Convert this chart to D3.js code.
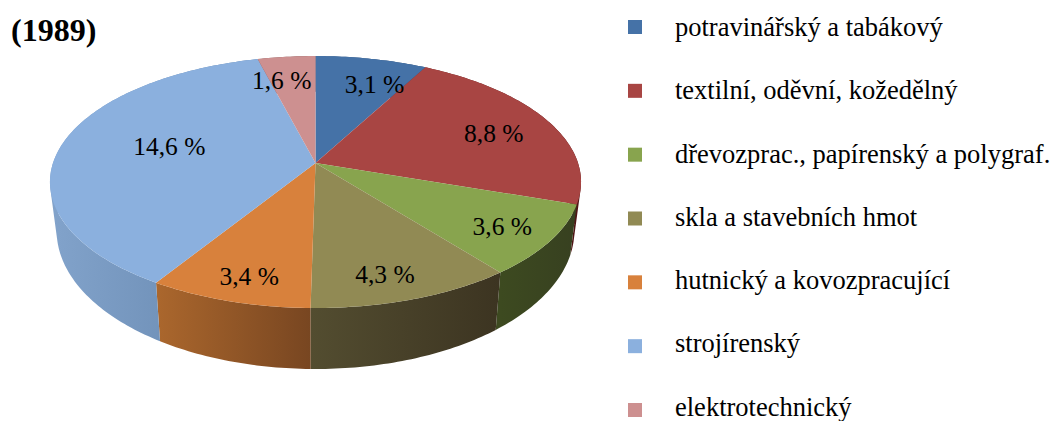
<!DOCTYPE html>
<html>
<head>
<meta charset="utf-8">
<script src="https://cdn.jsdelivr.net/npm/d3@7"></script>
<style>
  body { margin: 0; background: #fff; }
  text { font-family: 'Liberation Serif', serif; fill: #000; }
</style>
</head>
<body>
<div id="chart"></div>
<script>
// Values
var categories = [
  'potravinářský a tabákový',
  'textilní, oděvní, kožedělný',
  'dřevozprac., papírenský a polygraf.',
  'skla a stavebních hmot',
  'hutnický a kovozpracující',
  'strojírenský',
  'elektrotechnický'
]
var values = [3.1, 8.8, 3.6, 4.3, 3.4, 14.6, 1.6]
var valueLabels = ['3,1 %', '8,8 %', '3,6 %', '4,3 %', '3,4 %', '14,6 %', '1,6 %']
var title = '(1989)'

var topColors = ['#4572a7', '#a84543', '#88a44e', '#918a54', '#d8813c', '#8bb0de', '#cd9090']
var sideStart = ['#3a5f8c', '#6e1f1f', '#3d4a20', '#534d30', '#ab672d', '#82a3cb', '#8a5a5a']
var sideEnd = ['#2f4d72', '#4e1414', '#374020', '#3c3421', '#784621', '#6586ad', '#7a4f4f']

var width = 1054
var height = 421

// I tilt the pie with a perspective: the near edge comes out bigger
var apexX = 315.5
var apexY = 163
var radiusX = 262.5
var radiusY = 123.1
var tilt = 0.151

// floor of the pie, relative to the top face
var floorScaleX = 0.975
var floorScaleY = 1.1
var floorY = 209.5

// labels were placed by hand in the original, nudged from the slice middle
var labelRadius = 0.65
var labelNudge = [[21, -8], [25, -2], [39, 14], [9, 28], [-13, 28], [20, -5], [-14, -11]]

function project(angle, r) {
  var u = r * Math.sin(angle)
  var v = -r * Math.cos(angle)
  var w = 1 - tilt * v
  return [apexX + (radiusX * u) / w, apexY + (radiusY * v) / w]
}

function projectFloor(angle) {
  var p = project(angle, 1)
  return [apexX + (p[0] - apexX) * floorScaleX, floorY + (p[1] - apexY) * floorScaleY]
}

function arcAngles(d) {
  var steps = Math.max(2, Math.ceil((d.endAngle - d.startAngle) * 60))
  return d3.range(steps + 1).map(function(i) {
    return d.startAngle + ((d.endAngle - d.startAngle) * i) / steps
  })
}

var line = d3.line()

var pie = d3.pie().sort(null)
var slices = pie(values)

var svg = d3
  .select('#chart')
  .append('svg')
  .attr('width', width)
  .attr('height', height)
  .style('display', 'block')

var defs = svg.append('defs')

// sides first, the top faces cover whatever is behind them
// one small quad per step, all wound the same way so they fill as a union
svg
  .selectAll('.side')
  .data(slices)
  .enter()
  .append('path')
  .attr('class', 'side')
  .attr('d', function(d) {
    return d3
      .pairs(arcAngles(d))
      .map(function(pair) {
        var quad = [
          project(pair[0], 1),
          project(pair[1], 1),
          projectFloor(pair[1]),
          projectFloor(pair[0])
        ]
        if (d3.polygonArea(quad) < 0) {
          quad.reverse()
        }
        return line(quad) + 'Z'
      })
      .join('')
  })
  .attr('fill', function(d, i) {
    var xs = arcAngles(d).map(function(a) {
      return project(a, 1)[0]
    })
    var gradient = defs
      .append('linearGradient')
      .attr('id', 'side-' + i)
      .attr('gradientUnits', 'userSpaceOnUse')
      .attr('x1', d3.min(xs))
      .attr('x2', d3.max(xs))
      .attr('y1', 0)
      .attr('y2', 0)
    gradient.append('stop').attr('offset', 0).attr('stop-color', sideStart[i])
    gradient.append('stop').attr('offset', 1).attr('stop-color', sideEnd[i])
    return 'url(#side-' + i + ')'
  })

svg
  .selectAll('.slice')
  .data(slices)
  .enter()
  .append('path')
  .attr('class', 'slice')
  .attr('d', function(d) {
    var outline = arcAngles(d).map(function(a) {
      return project(a, 1)
    })
    return line([[apexX, apexY]].concat(outline)) + 'Z'
  })
  .attr('fill', function(d, i) {
    return topColors[i]
  })

svg
  .selectAll('.value-label')
  .data(slices)
  .enter()
  .append('text')
  .attr('class', 'value-label')
  .attr('text-anchor', 'middle')
  .attr('dy', '0.35em')
  .attr('font-size', 25.5)
  .attr('transform', function(d, i) {
    var p = project((d.startAngle + d.endAngle) / 2, labelRadius)
    return 'translate(' + (p[0] + labelNudge[i][0]) + ',' + (p[1] + labelNudge[i][1]) + ')'
  })
  .text(function(d, i) {
    return valueLabels[i]
  })

svg
  .append('text')
  .attr('x', 11)
  .attr('y', 41)
  .attr('font-size', 32)
  .attr('font-weight', 'bold')
  .text(title)

// Legend
var swatchScale = d3
  .scalePoint()
  .domain(categories)
  .range([27, 410])

// text baselines run a little tighter so the last descender stays on the page
var legendTextScale = d3
  .scalePoint()
  .domain(categories)
  .range([36, 415.5])

svg
  .selectAll('.swatch')
  .data(categories)
  .enter()
  .append('rect')
  .attr('class', 'swatch')
  .attr('x', 628)
  .attr('y', function(d) {
    return swatchScale(d) - 7
  })
  .attr('width', 14)
  .attr('height', 14)
  .attr('fill', function(d, i) {
    return topColors[i]
  })

svg
  .selectAll('.legend-label')
  .data(categories)
  .enter()
  .append('text')
  .attr('class', 'legend-label')
  .attr('x', 675)
  .attr('y', function(d) {
    return legendTextScale(d)
  })
  .attr('font-size', 26.5)
  .text(function(d) {
    return d
  })
</script>
</body>
</html>
